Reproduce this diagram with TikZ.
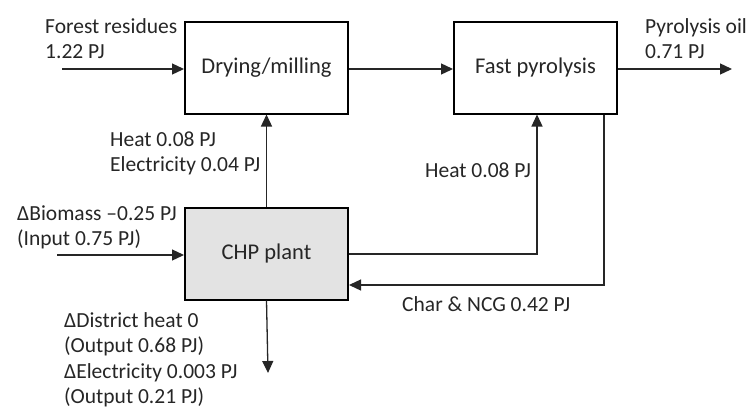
\documentclass[tikz,border=0pt]{standalone}
\usepackage{fontspec}
\setmainfont{Carlito}
\usetikzlibrary{arrows.meta}
\definecolor{ink}{HTML}{262626}
\definecolor{chpfill}{HTML}{E3E3E3}
\begin{document}
\begin{tikzpicture}[x=1pt,y=-1pt,
  box/.style={draw=black,line width=2pt,minimum width=163pt,minimum height=92pt,inner sep=0pt,font=\fontsize{22.5}{26}\selectfont,text=ink},
  lbl/.style={anchor=west,align=left,inner sep=0pt,font=\fontsize{21.5}{25.5}\selectfont,text=ink},
  arr/.style={draw=ink,line width=1.3pt,-{Triangle[length=12pt,width=11pt]}},
  ln/.style={draw=ink!85,line width=1.3pt}]
\useasboundingbox (0,0) rectangle (750,410);
\node[box] (dry) at (266.5,67.5) {Drying/milling};
\node[box] (pyro) at (535.5,67.5) {Fast pyrolysis};
\node[box,fill=chpfill] (chp) at (266.5,253.5) {CHP plant};
\coordinate (fin) at (62,69);
\coordinate (oil) at (732,69);
\coordinate (bin) at (57,255);
\coordinate (out) at (268,373);
\coordinate (hx) at (537,254);
\coordinate (cx) at (604,285);
\draw[arr] (fin) -- (fin -| dry.west);
\draw[arr] (dry.east |- fin) -- (pyro.west |- fin);
\draw[arr] (pyro.east |- oil) -- (oil);
\draw[arr] (chp.north) -- (dry.south);
\draw[arr] (bin) -- (bin -| chp.west);
\draw[arr] (chp.south) -- (out);
\draw[arr] (chp.east |- hx) -| (pyro.south -| hx);
\draw[arr] (pyro.south -| cx) |- (chp.east |- cx);
\node[lbl] (tfr) at (45,38.5) {Forest residues\\1.22 PJ};
\node[lbl] (thd) at (110,153.5) {Heat 0.08 PJ\\Electricity 0.04 PJ};
\node[lbl] (thp) at (425,170) {Heat 0.08 PJ};
\node[lbl] (toil) at (645,38.5) {Pyrolysis oil\\0.71 PJ};
\node[lbl] (tbio) at (17,227.5) {ΔBiomass –0.25 PJ\\(Input 0.75 PJ)};
\node[lbl] (tout) at (64,360) {ΔDistrict heat 0\\(Output 0.68 PJ)\\ΔElectricity 0.003 PJ\\(Output 0.21 PJ)};
\node[lbl] (tchar) at (402,304) {Char \& NCG 0.42 PJ};
\end{tikzpicture}
\end{document}
